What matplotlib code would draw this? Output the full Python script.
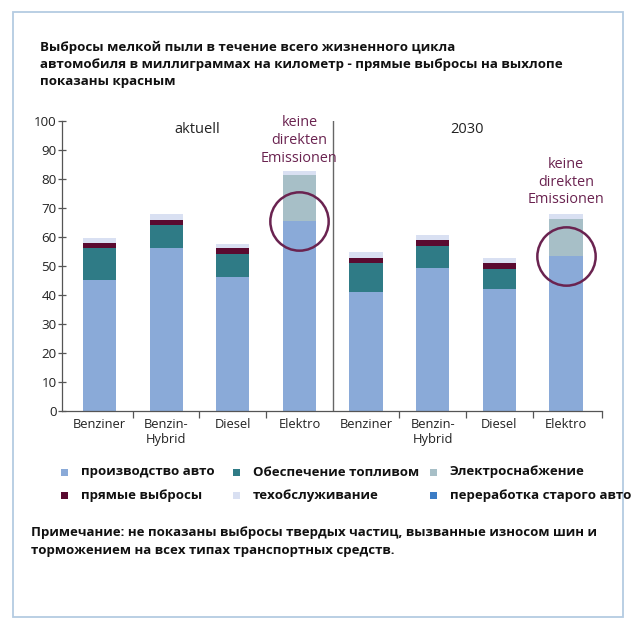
import numpy as np
import matplotlib
matplotlib.use("Agg")
import matplotlib.pyplot as plt
from matplotlib.patches import Rectangle

# data (mg/km)
cars = ["Benziner", "Benzin-\nHybrid", "Diesel", "Elektro"]
periods = ["aktuell", "2030"]
production = [45, 56, 46, 65.4, 41, 49.3, 42, 53.3]
fuel = [11, 8, 8, 0, 10, 7.5, 7, 0]
electricity = [0, 0, 0, 15.8, 0, 0, 0, 12.7]
direct = [1.9, 1.8, 2.0, 0, 1.7, 2.0, 1.9, 0]
maintenance = [1.6, 2.0, 1.7, 1.7, 2.0, 1.8, 1.9, 2.0]
recycling = [0, 0, 0, 0, 0, 0, 0, 0]

legend_labels = ["производство авто", "Обеспечение топливом", "Электроснабжение",
                 "прямые выбросы", "техобслуживание", "переработка старого авто"]
colors = ["#8aaad8", "#2f7b86", "#a7bfc7", "#5a0a30", "#d9e0f2", "#3b7cc5"]
purple = "#6a2350"

title = ("Выбросы мелкой пыли в течение всего жизненного цикла\n"
         "автомобиля в миллиграммах на километр - прямые выбросы на выхлопе\n"
         "показаны красным")
note = ("Примечание: не показаны выбросы твердых частиц, вызванные износом шин и\n"
        "торможением на всех типах транспортных средств.")

W, H = 640, 626
fig = plt.figure(figsize=(W / 100, H / 100), dpi=100)
fig.patch.set_facecolor("white")

def fx(px):
    return px / W

def fy(py):
    return 1 - py / H

# light blue frame around everything
fig.patches.append(Rectangle((fx(13), fy(617)), fx(623) - fx(13), fy(12) - fy(617),
                             transform=fig.transFigure, fill=False,
                             edgecolor="#b4cbe2", lw=1.3))

ax = fig.add_axes([fx(62), fy(410.7), fx(602) - fx(62), fy(121) - fy(410.7)])

x = np.arange(8)
stack = [production, fuel, electricity, direct, maintenance, recycling]
bottom = np.zeros(8)
for vals, c in zip(stack, colors):
    vals = np.array(vals, dtype=float)
    ax.bar(x, vals, 0.5, bottom=bottom, color=c, linewidth=0)
    bottom += vals

ax.set_ylim(0, 100)
ax.set_xlim(-0.563, 7.54)
ax.set_yticks(np.arange(0, 101, 10))
ax.tick_params(axis="y", direction="inout", length=6, width=0.9, color="#555555",
               labelsize=9.6, labelcolor="#222222", pad=1)
ax.set_xticks(x, cars * 2)
ax.tick_params(axis="x", length=0, labelsize=9.3, labelcolor="#222222", pad=5)
ax.set_xticks([0.5, 1.5, 2.5, 4.5, 5.5, 6.5, 7.54], minor=True)
ax.tick_params(axis="x", which="minor", length=5, width=0.9, color="#555555")
for lab in ax.get_xticklabels() + ax.get_yticklabels():
    lab.set_family("Open Sans")
for lab in ax.get_xticklabels():
    lab.set_linespacing(1.2)
    lab.set_verticalalignment("top")

for s in ["top", "right"]:
    ax.spines[s].set_visible(False)
for s in ["left", "bottom"]:
    ax.spines[s].set_color("#555555")
    ax.spines[s].set_linewidth(0.9)

ax.axvline(3.5, color="#666666", lw=1.0)

ax.text(1.46, 97, periods[0], ha="center", va="center", fontsize=10.5,
        family="Open Sans", color="#222222")
ax.text(5.51, 97, periods[1], ha="center", va="center", fontsize=10.5,
        family="Open Sans", color="#222222")

# "no direct emissions" marks on the electric cars
for i in [3, 7]:
    ax.plot(i, production[i], marker="o", markersize=42, mfc="none",
            mec=purple, mew=1.8)
ax.text(3, 93.3, "keine\ndirekten\nEmissionen", ha="center", va="center",
        fontsize=10.4, family="Open Sans", color=purple, linespacing=1.25)
ax.text(7, 78.9, "keine\ndirekten\nEmissionen", ha="center", va="center",
        fontsize=10.4, family="Open Sans", color=purple, linespacing=1.25)

# legend built by hand, three columns
sq_x = [64, 236, 433]
row_y = [472, 495]
for k, (lab, c) in enumerate(zip(legend_labels, colors)):
    r, col = divmod(k, 3)
    fig.patches.append(Rectangle((fx(sq_x[col] - 3.5), fy(row_y[r] + 3.5)), 7 / W, 7 / H,
                                 transform=fig.transFigure, color=c, lw=0))
    fig.text(fx(sq_x[col] + 17), fy(row_y[r]), lab, ha="left", va="center",
             fontsize=9.5, fontweight="bold", family="Open Sans", color="#111111")

fig.text(fx(40), fy(64), title, ha="left", va="center", fontsize=9.6,
         fontweight="bold", family="Open Sans", color="#111111", linespacing=1.4)
fig.text(fx(31), fy(541.5), note, ha="left", va="center", fontsize=9.55,
         fontweight="bold", family="Open Sans", color="#111111", linespacing=1.5)

fig.savefig("out.png", dpi=100, facecolor="white")
